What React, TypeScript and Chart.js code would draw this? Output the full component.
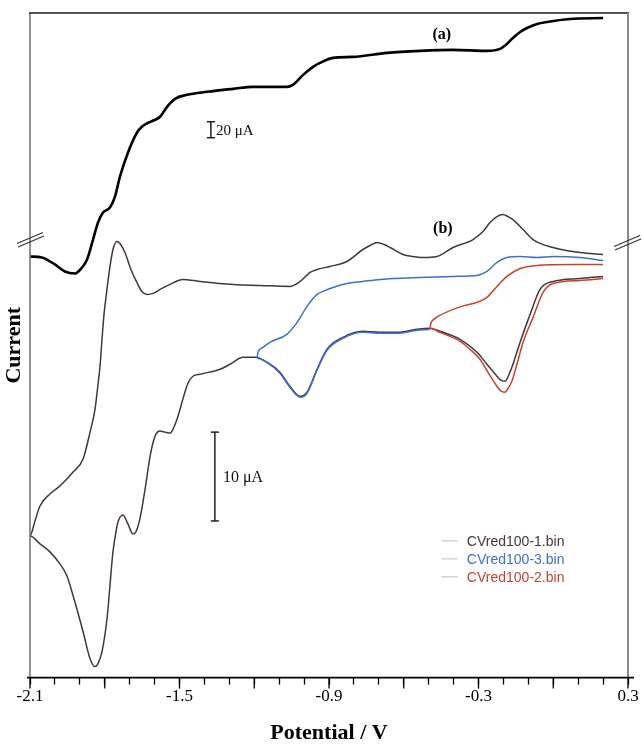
import React, { useEffect, useRef } from "react";
import { Chart, registerables } from "chart.js";

Chart.register(...registerables);

// Axis ranges
const xMin = -2.1;
const xMax = 0.3;
const xLabeledTicks = [-2.1, -1.5, -0.9, -0.3, 0.3];
const yMin = 0;
const yMax = 666;

// Curve (a) – potential (V) and current (offset, a.u.)
const aPotential = [-2.1, -2.052, -2.0, -1.96, -1.919, -1.891, -1.871, -1.847, -1.827, -1.807, -1.779, -1.759, -1.739, -1.707, -1.671, -1.651, -1.626, -1.598, -1.578, -1.55, -1.518, -1.47, -1.39, -1.285, -1.205, -1.069, -1.045, -1.004, -0.964, -0.936, -0.884, -0.804, -0.667, -0.535, -0.402, -0.266, -0.214, -0.186, -0.162, -0.133, -0.105, -0.065, -0.025, 0.067, 0.2];
const aCurrent = [422, 421, 414, 407, 405, 411, 419, 439, 456, 466, 471, 482, 502, 526, 546, 552, 556, 559, 562, 572, 580, 584, 587, 590, 592, 592, 594, 604, 612, 616, 621, 622, 626, 628, 629, 628, 630, 635, 641, 647, 651, 655, 657, 660, 661];

// CVred100-1.bin – cathodic sweep from 0.2 V to -2.1 V then anodic return
const cv1Potential = [0.2, 0.107, -0.001, -0.053, -0.093, -0.133, -0.166, -0.186, -0.194, -0.21, -0.226, -0.266, -0.306, -0.374, -0.455, -0.495, -0.547, -0.627, -0.695, -0.764, -0.844, -0.908, -0.948, -0.988, -1.016, -1.057, -1.097, -1.149, -1.197, -1.245, -1.297, -1.337, -1.418, -1.446, -1.466, -1.482, -1.506, -1.526, -1.538, -1.558, -1.578, -1.598, -1.618, -1.638, -1.659, -1.675, -1.687, -1.707, -1.727, -1.747, -1.755, -1.767, -1.791, -1.811, -1.827, -1.839, -1.859, -1.887, -1.927, -1.952, -1.98, -2.02, -2.06, -2.1,
  -2.08, -2.06, -2.02, -1.98, -1.927, -1.887, -1.859, -1.839, -1.827, -1.819, -1.811, -1.803, -1.795, -1.779, -1.767, -1.751, -1.739, -1.719, -1.695, -1.671, -1.651, -1.63, -1.606, -1.578, -1.538, -1.486, -1.418, -1.285, -1.177, -1.057, -1.016, -0.976, -0.948, -0.896, -0.828, -0.764, -0.735, -0.707, -0.679, -0.655, -0.603, -0.563, -0.523, -0.467, -0.402, -0.322, -0.282, -0.254, -0.226, -0.202, -0.182, -0.162, -0.121, -0.081, -0.001, 0.107, 0.2];
const cv1Current = [402, 400, 397, 389, 364, 336, 311, 299, 297, 298, 302, 314, 326, 339, 347, 350, 349, 346, 346, 347, 341, 329, 309, 286, 282, 292, 306, 316, 321, 321, 314, 309, 304, 302, 295, 283, 262, 249, 245, 246, 247, 242, 222, 189, 159, 146, 144, 154, 163, 156, 146, 126, 59, 26, 14, 11, 19, 46, 82, 102, 114, 126, 134, 142,
  157, 172, 184, 192, 206, 219, 246, 269, 294, 312, 339, 364, 381, 412, 429, 437, 435, 426, 409, 396, 387, 384, 385, 389, 394, 399, 397, 394, 393, 392, 397, 406, 409, 412, 417, 429, 433, 436, 434, 431, 424, 422, 421, 422, 431, 439, 447, 456, 462, 464, 462, 459, 449, 439, 431, 426, 424];

// CVred100-3.bin – switched at -1.19 V
const cv3Potential = [-0.495, -0.547, -0.627, -0.695, -0.764, -0.844, -0.908, -0.948, -0.988, -1.016, -1.057, -1.097, -1.149, -1.189,
  -1.185, -1.165, -1.137, -1.069, -1.028, -0.988, -0.948, -0.924, -0.884, -0.828, -0.764, -0.695, -0.535, -0.402, -0.306, -0.266, -0.226, -0.186, -0.133, -0.065, -0.001, 0.107, 0.2];
const cv3Current = [349, 348, 345, 345, 346, 340, 328, 308, 285, 281, 291, 305, 316, 320,
  326, 331, 336, 344, 356, 372, 384, 387, 391, 395, 397, 399, 401, 402, 403, 407, 416, 421, 422, 421, 422, 421, 418];

// CVred100-2.bin – switched at -0.5 V
const cv2Potential = [0.2, 0.107, -0.001, -0.041, -0.081, -0.121, -0.149, -0.166, -0.186, -0.194, -0.21, -0.226, -0.262, -0.294, -0.334, -0.374, -0.455, -0.495,
  -0.491, -0.479, -0.455, -0.402, -0.354, -0.306, -0.266, -0.226, -0.186, -0.133, -0.065, 0.067, 0.2];
const cv2Current = [400, 398, 395, 386, 361, 336, 311, 297, 288, 286, 287, 292, 306, 319, 329, 337, 346, 350,
  355, 359, 363, 369, 373, 376, 381, 392, 402, 410, 413, 414, 414];

const seriesLabels = ["(a)", "CVred100-1.bin", "CVred100-3.bin", "CVred100-2.bin"];
const seriesColors = ["#000000", "#45363b", "#3b6fd3", "#c8412f"];
const legendSeries = ["CVred100-1.bin", "CVred100-3.bin", "CVred100-2.bin"];

// Annotation anchors (data units)
const labelA = { x: -0.447, y: 644, text: "(a)" };
const labelB = { x: -0.443, y: 450, text: "(b)" };
const bar20 = { x: -1.374, y1: 541, y2: 557, text: "20 \u03bcA" };
const bar10 = { x: -1.358, y1: 157, y2: 246, text: "10 \u03bcA" };
const legendAnchor = { x: -0.447, y: 137 };
const breakLevels = { left: 440, right: 437 };

const SERIF = "'Liberation Serif', 'Times New Roman', serif";
const SANS = "'Liberation Sans', Arial, sans-serif";

function App() {
  const ref = useRef<HTMLCanvasElement>(null);

  useEffect(() => {
    document.body.style.margin = "0";
    const pts = (xs: number[], ys: number[]) => xs.map((x, i) => ({ x, y: ys[i] }));

    const decor = {
      id: "decor",
      afterDraw(chart: any) {
        const { ctx, chartArea: ca } = chart;
        const X = (v: number) => chart.scales.x.getPixelForValue(v);
        const Y = (v: number) => chart.scales.y.getPixelForValue(v);
        const seg = (x1: number, y1: number, x2: number, y2: number, c: string, w: number) => {
          ctx.beginPath();
          ctx.strokeStyle = c;
          ctx.lineWidth = w;
          ctx.moveTo(x1, y1);
          ctx.lineTo(x2, y2);
          ctx.stroke();
        };
        ctx.save();
        // frame
        seg(ca.left, ca.top, ca.left, ca.bottom, "#707070", 1.5);
        seg(ca.left - 1, ca.top, ca.right + 1, ca.top, "#1a1a1a", 1.5);
        seg(ca.right, ca.top, ca.right, ca.bottom, "#8a8a8a", 2);
        // x axis line
        seg(ca.left - 3, ca.bottom, ca.right + 6, ca.bottom, "#000", 1.6);
        // long ticks every 0.3 V
        for (let k = 0; k <= 8; k++) {
          const px = X(xMin + k * 0.3);
          seg(px, ca.bottom, px, ca.bottom + 11, "#000", 1.3);
        }
        // axis break marks
        const brk = (cx: number, cy: number) => {
          seg(cx - 13, cy + 5, cx + 13, cy - 6, "#333", 1.2);
          seg(cx - 12, cy + 8.5, cx + 14, cy - 2.5, "#333", 1.2);
        };
        brk(X(xMin), Y(breakLevels.left));
        brk(X(xMax) - 1, Y(breakLevels.right));
        // scale bars
        const bar = (b: any, size: number, gap: number) => {
          const px = X(b.x);
          const t = Y(b.y2), bt = Y(b.y1);
          seg(px, t, px, bt, "#111", 1.4);
          seg(px - 4, t, px + 4, t, "#111", 1.4);
          seg(px - 4, bt, px + 4, bt, "#111", 1.4);
          ctx.fillStyle = "#111";
          ctx.font = `${size}px ${SERIF}`;
          ctx.textAlign = "left";
          ctx.textBaseline = "middle";
          ctx.fillText(b.text, px + gap, (t + bt) / 2 + 1);
        };
        bar(bar20, 15, 5);
        bar(bar10, 16, 8);
        // (a) (b) labels
        ctx.fillStyle = "#000";
        ctx.font = `bold 16px ${SERIF}`;
        ctx.textAlign = "center";
        ctx.textBaseline = "middle";
        ctx.fillText(labelA.text, X(labelA.x), Y(labelA.y));
        ctx.fillText(labelB.text, X(labelB.x), Y(labelB.y));
        // legend
        const lx = X(legendAnchor.x);
        let ly = Y(legendAnchor.y);
        ctx.font = `14px ${SANS}`;
        ctx.textAlign = "left";
        legendSeries.forEach((name) => {
          const ds = chart.data.datasets.find((d: any) => d.label === name);
          seg(lx, ly, lx + 16, ly, "#c4bcbc", 1);
          ctx.fillStyle = ds.borderColor;
          ctx.fillText(name, lx + 25, ly + 1);
          ly += 18;
        });
        ctx.restore();
      },
    };

    const chart = new Chart(ref.current as HTMLCanvasElement, {
      type: "scatter",
      data: {
        datasets: [
          { label: seriesLabels[0], data: pts(aPotential, aCurrent), borderColor: seriesColors[0], borderWidth: 2.6, order: 3 },
          { label: seriesLabels[1], data: pts(cv1Potential, cv1Current), borderColor: seriesColors[1], borderWidth: 1.5, order: 2 },
          { label: seriesLabels[2], data: pts(cv3Potential, cv3Current), borderColor: seriesColors[2], borderWidth: 1.5, order: 1 },
          { label: seriesLabels[3], data: pts(cv2Potential, cv2Current), borderColor: seriesColors[3], borderWidth: 1.5, order: 0 },
        ].map((d) => ({ ...d, showLine: true, pointRadius: 0, cubicInterpolationMode: "monotone", fill: false, backgroundColor: d.borderColor })),
      },
      options: {
        responsive: false,
        animation: false,
        events: [],
        layout: { padding: { left: 3, right: 14, top: 13, bottom: 0 } },
        plugins: { legend: { display: false }, tooltip: { enabled: false } },
        scales: {
          x: {
            type: "linear",
            min: xMin,
            max: xMax,
            border: { display: false },
            grid: { display: true, drawOnChartArea: false, drawTicks: true, tickLength: 7, tickColor: "#000", tickWidth: 1.3 },
            ticks: {
              stepSize: 0.1,
              autoSkip: false,
              maxRotation: 0,
              padding: 2,
              color: "#000",
              font: { family: SERIF, size: 17 },
              callback: (v: any) => {
                const hit = xLabeledTicks.find((t) => Math.abs(t - Number(v)) < 1e-6);
                return hit === undefined ? "" : hit.toFixed(1);
              },
            },
            title: {
              display: true,
              text: "Potential / V",
              color: "#000",
              font: { family: SERIF, size: 22, weight: "bold", lineHeight: 1 },
              padding: { top: 13, bottom: 0 },
            },
          },
          y: {
            type: "linear",
            min: yMin,
            max: yMax,
            border: { display: false },
            grid: { display: false, drawTicks: false },
            ticks: { display: false },
            title: {
              display: true,
              text: "Current",
              color: "#000",
              font: { family: SERIF, size: 22, weight: "bold", lineHeight: 1 },
              padding: { top: 0, bottom: 5 },
            },
          },
        },
      },
      plugins: [decor],
    } as any);
    return () => chart.destroy();
  }, []);

  return (
    <div style={{ width: 642, height: 744 }}>
      <canvas ref={ref} width={642} height={744} style={{ display: "block" }} />
    </div>
  );
}

export default App;
